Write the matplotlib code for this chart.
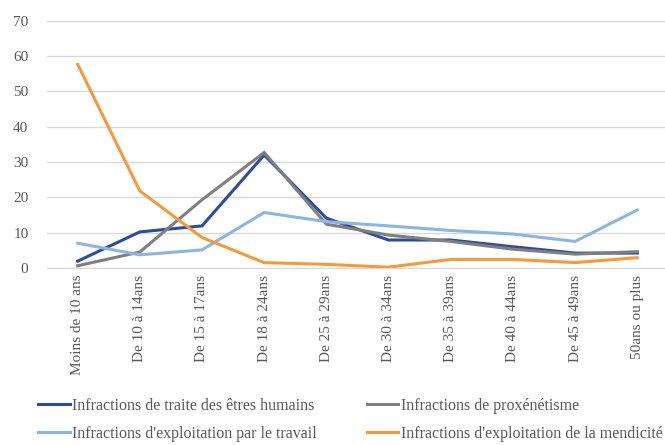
import matplotlib
matplotlib.use("Agg")
import matplotlib.pyplot as plt

categories = ["Moins de 10 ans", "De 10 à 14ans", "De 15 à 17ans", "De 18 à 24ans",
              "De 25 à 29ans", "De 30 à 34ans", "De 35 à 39ans", "De 40 à 44ans",
              "De 45 à 49ans", "50ans ou plus"]
traite = [1.9, 10.2, 11.9, 32.0, 14.1, 7.9, 7.9, 6.0, 4.2, 4.2]
proxenetisme = [0.6, 4.5, 19.3, 32.7, 12.4, 9.3, 7.5, 5.3, 3.9, 4.6]
travail = [7.0, 3.7, 5.1, 15.7, 13.1, 11.9, 10.6, 9.6, 7.5, 16.4]
mendicite = [57.7, 21.8, 8.6, 1.5, 1.0, 0.2, 2.4, 2.4, 1.5, 2.9]

series = [
    ("Infractions de traite des êtres humains", traite, "#2f4b9c"),
    ("Infractions de proxénétisme", proxenetisme, "#7f7f7f"),
    ("Infractions d'exploitation par le travail", travail, "#8eb4e3"),
    ("Infractions d'exploitation de la mendicité", mendicite, "#f59a3c"),
]

plt.rcParams['font.family'] = ['Liberation Serif', 'DejaVu Serif']
txt = "#595959"

fig = plt.figure(figsize=(6.65, 4.45), dpi=100)
ax = fig.add_axes([0.070, 0.398, 0.935, 0.555])

x = list(range(len(categories)))
lines = []
for name, vals, col in series:
    ln, = ax.plot(x, vals, color=col, lw=2.2, label=name, solid_joinstyle="miter")
    lines.append(ln)

ax.set_xlim(-0.5, len(categories) - 0.5)
ax.set_ylim(0, 70)
ax.set_yticks(range(0, 71, 10))
ax.yaxis.grid(True, color="#d9d9d9", lw=1)
ax.set_axisbelow(True)
for s in ["top", "right", "left"]:
    ax.spines[s].set_visible(False)
ax.spines["bottom"].set_color("#d9d9d9")
ax.tick_params(length=0, labelsize=11, colors=txt)
ax.tick_params(axis="y", pad=13)
ax.tick_params(axis="x", pad=5)
ax.set_xticks(x)
ax.set_xticklabels(categories, rotation=90, va="top", ha="center")

# row-wise order like the original legend
order = [0, 2, 1, 3]
fig.legend([lines[i] for i in order], [series[i][0] for i in order],
           loc="upper left", bbox_to_anchor=(0.057, 0.106), ncol=2, frameon=False,
           fontsize=11.5, handlelength=2.0, handletextpad=0.15, columnspacing=3.1,
           labelspacing=0.75, labelcolor=txt, borderpad=0, borderaxespad=0)

fig.savefig("out.png", dpi=100)
